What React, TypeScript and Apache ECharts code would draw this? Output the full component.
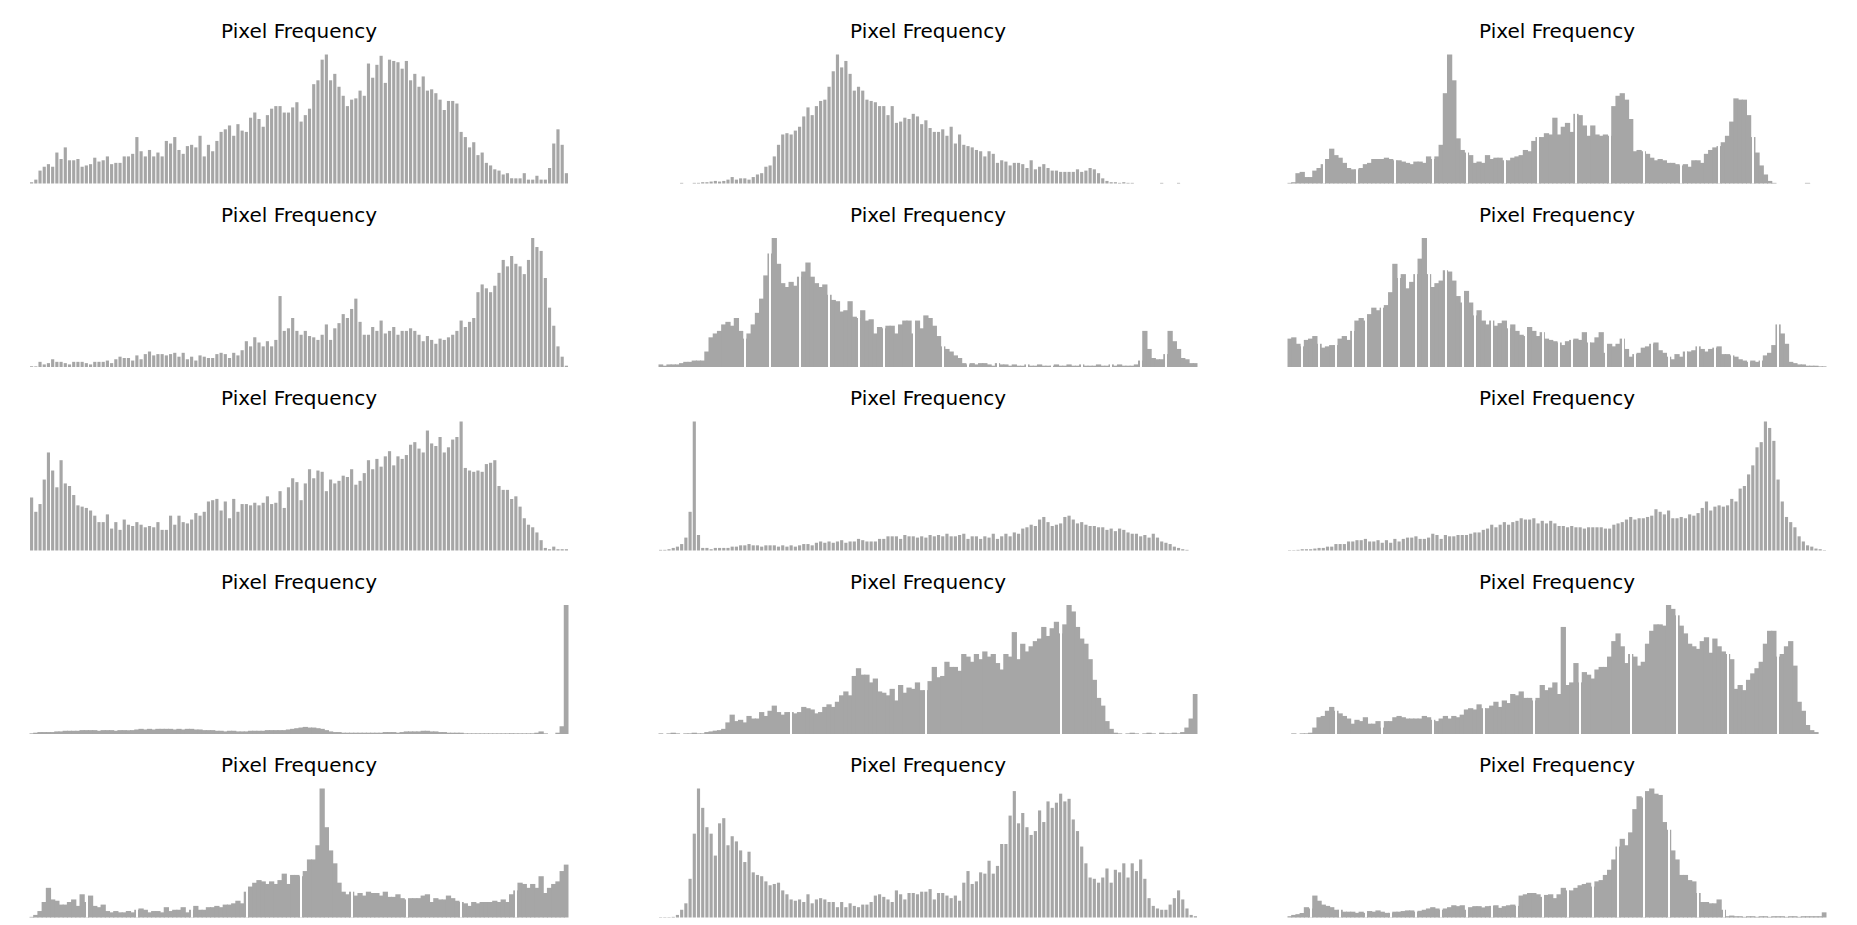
import * as echarts from "echarts";
import { useEffect, useRef } from "react";

const panelTitle = "Pixel Frequency";

// 128 bins, each covering two grey levels
const binLabels = Array.from({ length: 128 }, (_, i) => String(i * 2));

// relative bin heights, 100 = tallest bin of each panel
const hist01 = [
  1, 3, 10, 13, 15, 13, 24, 19, 28, 18, 18, 19, 13, 14, 15, 20,
  17, 18, 21, 15, 16, 16, 21, 21, 23, 36, 25, 21, 26, 21, 24, 21,
  33, 31, 36, 26, 23, 29, 30, 28, 37, 21, 30, 25, 33, 40, 42, 45,
  37, 46, 41, 40, 51, 55, 50, 44, 53, 58, 60, 60, 55, 55, 59, 63,
  48, 53, 58, 77, 80, 96, 100, 80, 85, 75, 68, 60, 65, 66, 72, 68,
  93, 82, 92, 99, 78, 96, 95, 94, 89, 95, 80, 85, 75, 83, 72, 73,
  70, 65, 57, 64, 64, 62, 40, 36, 28, 32, 22, 24, 16, 14, 11, 10,
  7, 8, 4, 4, 4, 8, 3, 3, 6, 3, 3, 12, 31, 42, 30, 8,
];
const hist02 = [
  0, 0, 0, 0, 0, 0.5, 0, 0, 0.5, 0.5, 1, 1, 1.5, 2, 1.5, 2,
  3, 5, 3, 4, 4, 3, 5, 7, 8, 13, 14, 21, 30, 38, 39, 38,
  41, 44, 52, 59, 53, 60, 64, 65, 75, 87, 100, 90, 95, 85, 72, 75,
  72, 65, 64, 63, 60, 60, 53, 60, 47, 48, 51, 50, 54, 52, 46, 49,
  43, 40, 40, 42, 37, 44, 31, 38, 30, 29, 28, 26, 25, 21, 25, 23,
  16, 18, 17, 14, 16, 16, 15, 12, 18, 11, 13, 15, 12, 10, 10, 9,
  9, 9, 9, 11, 9, 10, 12, 11, 8, 4, 2, 1, 1, 0.5, 1, 0.5,
  0.5, 0, 0, 0, 0, 0, 0, 0.5, 0, 0, 0, 0.5, 0, 0, 0, 0,
];
const hist03 = [
  0.5, 1, 8, 9, 5, 5, 10, 12, 15, 19, 27, 22, 20, 16, 12, 11,
  11, 12, 15, 16, 19, 19, 19, 20, 19, 18, 18, 17, 16, 15, 17, 17,
  16, 21, 19, 21, 30, 70, 100, 80, 35, 26, 24, 22, 16, 17, 16, 22,
  19, 20, 20, 18, 18, 20, 21, 22, 26, 25, 33, 36, 36, 39, 38, 51,
  38, 44, 47, 40, 54, 53, 45, 37, 45, 38, 37, 38, 37, 60, 68, 70,
  65, 50, 25, 26, 25, 23, 20, 18, 19, 18, 16, 16, 15, 14, 15, 13,
  18, 18, 16, 23, 26, 28, 29, 32, 37, 48, 66, 65, 65, 53, 36, 24,
  14, 7, 2, 0.5, 0, 0, 0, 0, 0, 0, 0, 0.5, 0, 0, 0, 0,
];
const hist04 = [
  0.5, 0.5, 4, 2, 3, 6, 4, 4, 3, 2, 4, 4, 4, 3, 2, 4,
  4, 4, 5, 3, 6, 8, 7, 7, 5, 9, 6, 10, 12, 9, 10, 10,
  9, 10, 11, 8, 11, 6, 8, 5, 9, 8, 7, 7, 10, 11, 10, 7,
  11, 9, 13, 20, 16, 23, 19, 16, 20, 16, 21, 55, 28, 30, 38, 28,
  25, 28, 24, 23, 21, 25, 33, 21, 30, 34, 41, 38, 45, 53, 35, 25,
  25, 31, 28, 36, 26, 28, 31, 25, 28, 28, 30, 28, 25, 20, 24, 21,
  18, 22, 21, 23, 25, 28, 36, 31, 35, 38, 58, 64, 61, 58, 63, 73,
  83, 78, 86, 80, 78, 72, 83, 100, 93, 90, 69, 46, 32, 16, 8, 1,
];
const hist05 = [
  2, 1, 2, 2, 2, 3, 4, 4, 5, 5, 5, 12, 23, 26, 28, 33,
  35, 32, 38, 28, 22, 26, 33, 42, 53, 71, 88, 100, 80, 65, 62, 66,
  63, 70, 74, 81, 70, 65, 62, 64, 56, 52, 51, 43, 44, 51, 39, 38,
  44, 36, 37, 26, 31, 30, 32, 32, 26, 33, 36, 36, 26, 36, 30, 40,
  38, 32, 24, 16, 14, 12, 9, 7, 3, 2, 3, 2, 3, 3, 2, 1,
  3, 2, 2, 1, 2, 1, 1, 2, 1, 1, 2, 1, 1, 1, 2, 1,
  1, 2, 1, 1, 2, 1, 1, 1, 2, 1, 1, 2, 1, 2, 1, 1,
  1, 2, 5, 28, 14, 7, 6, 6, 10, 28, 20, 14, 7, 6, 3, 3,
];
const hist06 = [
  22, 23, 18, 16, 21, 22, 24, 18, 15, 16, 17, 17, 22, 24, 21, 28,
  36, 38, 36, 41, 46, 44, 46, 48, 58, 80, 69, 72, 61, 66, 72, 84,
  100, 72, 62, 65, 67, 75, 74, 67, 55, 50, 59, 50, 40, 44, 36, 33,
  36, 32, 34, 36, 30, 33, 28, 25, 24, 31, 28, 24, 27, 22, 21, 20,
  19, 17, 20, 21, 22, 21, 27, 19, 19, 23, 27, 11, 18, 16, 18, 22,
  14, 8, 10, 11, 15, 16, 18, 19, 13, 11, 8, 6, 10, 8, 12, 12,
  13, 16, 14, 12, 14, 15, 16, 10, 10, 9, 8, 6, 5, 4, 5, 4,
  5, 9, 11, 17, 33, 26, 18, 4, 3, 2, 2, 1, 1, 1, 0.5, 0.5,
];
const hist07 = [
  41, 30, 36, 55, 76, 62, 49, 70, 52, 50, 43, 35, 34, 33, 31, 27,
  22, 22, 28, 17, 22, 16, 24, 20, 19, 22, 20, 18, 19, 18, 22, 16,
  16, 27, 20, 27, 22, 21, 24, 29, 27, 30, 38, 39, 40, 31, 38, 25,
  40, 30, 36, 36, 35, 37, 35, 37, 42, 36, 37, 46, 33, 49, 56, 53,
  39, 52, 63, 56, 62, 61, 46, 55, 52, 54, 58, 57, 63, 51, 54, 60,
  70, 63, 71, 65, 73, 77, 66, 73, 71, 74, 82, 84, 79, 76, 93, 83,
  81, 88, 76, 80, 86, 88, 100, 64, 62, 61, 62, 61, 67, 68, 70, 50,
  47, 47, 40, 42, 34, 25, 20, 18, 14, 8, 2, 1, 3, 1, 1, 1,
];
const hist08 = [
  0.5, 0.5, 1, 2, 3, 5, 10, 30, 100, 12, 2, 2, 1, 2, 2, 2,
  2, 3, 3, 4, 4, 5, 4, 4, 3, 4, 4, 4, 3, 4, 3, 4,
  3, 4, 5, 5, 4, 6, 7, 6, 7, 6, 7, 8, 6, 7, 7, 9,
  8, 7, 7, 7, 9, 9, 11, 11, 11, 9, 12, 11, 11, 10, 11, 10,
  12, 11, 12, 11, 13, 11, 11, 12, 13, 9, 11, 11, 9, 11, 10, 13,
  9, 11, 13, 11, 14, 13, 17, 18, 20, 19, 24, 26, 22, 19, 20, 21,
  26, 27, 24, 21, 22, 20, 19, 19, 18, 18, 16, 17, 15, 17, 16, 14,
  13, 13, 11, 12, 10, 13, 10, 7, 6, 5, 3, 2, 1, 0.5, 0, 0,
];
const hist09 = [
  0.3, 0.3, 0.5, 1, 1, 1, 1.5, 2, 2, 3, 3, 5, 5, 5, 7, 7,
  8, 8, 9, 7, 7, 8, 6, 8, 6, 9, 7, 9, 10, 10, 11, 9,
  9, 10, 13, 12, 9, 12, 11, 11, 12, 12, 12, 13, 14, 14, 16, 17,
  20, 18, 20, 22, 20, 22, 23, 25, 24, 24, 25, 21, 23, 21, 23, 21,
  19, 19, 18, 19, 18, 18, 17, 18, 18, 18, 18, 17, 17, 20, 21, 22,
  24, 26, 24, 25, 25, 26, 27, 32, 30, 28, 31, 25, 25, 26, 25, 28,
  27, 29, 33, 38, 31, 34, 35, 34, 35, 40, 38, 48, 50, 59, 66, 80,
  84, 100, 95, 85, 55, 38, 26, 22, 18, 11, 7, 4, 3, 1.5, 1, 0.3,
];
const hist10 = [
  0.5, 1, 1.5, 1.5, 1.5, 1.5, 2, 2, 2.5, 2.5, 2.5, 2.5, 3, 3, 3, 3,
  2.5, 3, 3, 3, 2.5, 3, 3, 3, 3, 3.5, 4, 3.5, 4, 3.5, 4, 4,
  4, 4, 3.5, 4, 3.5, 4, 4, 3.5, 3.5, 3, 3, 3, 2.5, 2.5, 2, 2.5,
  2.5, 2, 2, 2, 2.5, 2.5, 2.5, 2.5, 3, 3, 3, 3, 3, 3.5, 4, 4.5,
  5, 5.5, 5, 5, 4.5, 4, 3, 2, 1.5, 1.5, 1, 1, 1, 1, 1, 1,
  1, 1, 1, 1, 1.5, 1.5, 1.5, 1, 1.5, 2, 2, 2, 2, 2.5, 2.5, 2,
  2, 1.5, 1.5, 1, 1, 1, 1, 0.5, 0.5, 0.5, 0.5, 0.5, 0.5, 0.5, 0.5, 0.5,
  0.5, 0.5, 0.5, 0.5, 0.5, 0.5, 0.5, 0.5, 1, 2, 0.5, 0, 0, 1, 6, 100,
];
const hist11 = [
  0.5, 0, 0.5, 1, 0.5, 0, 0.5, 0.5, 1, 0.5, 0.5, 1.5, 2, 2.6, 3, 4,
  9, 15, 10, 11, 9, 14, 12, 12, 17, 14, 18, 22, 17, 15, 17, 17,
  16, 17, 21, 20, 19, 16, 17, 21, 23, 21, 25, 30, 33, 30, 45, 51,
  46, 46, 40, 43, 33, 32, 30, 35, 26, 38, 32, 36, 35, 40, 34, 34,
  41, 52, 44, 45, 56, 52, 52, 49, 62, 60, 56, 62, 58, 64, 60, 62,
  55, 50, 62, 60, 79, 58, 70, 64, 68, 72, 74, 83, 76, 82, 87, 78,
  85, 100, 95, 83, 74, 70, 58, 42, 28, 22, 10, 4, 1, 0.5, 0, 0.5,
  1, 0.5, 0, 0.5, 1, 0.5, 0, 1, 0.5, 0.5, 1, 0.5, 1.5, 5, 12, 31,
];
const hist12 = [
  0, 0.5, 0, 0.5, 0.5, 1, 5, 13, 14, 18, 21, 18, 16, 14, 12, 8,
  11, 10, 13, 8, 8, 10, 5, 10, 10, 13, 14, 13, 12, 12, 12, 12,
  14, 13, 11, 10, 12, 14, 12, 14, 13, 15, 19, 20, 19, 23, 20, 20,
  22, 25, 21, 26, 24, 31, 30, 33, 28, 28, 26, 28, 38, 34, 36, 40,
  31, 83, 38, 40, 55, 40, 48, 46, 43, 50, 52, 52, 60, 72, 78, 68,
  55, 62, 60, 53, 56, 70, 80, 85, 85, 84, 100, 97, 92, 84, 78, 70,
  68, 66, 72, 75, 63, 74, 68, 64, 62, 58, 35, 38, 34, 42, 47, 51,
  56, 70, 80, 80, 60, 62, 68, 72, 53, 25, 18, 7, 3, 1.5, 0, 0,
];
const hist13 = [
  0.5, 2, 5, 12, 23, 14, 13, 10, 10, 12, 14, 9, 18, 12, 17, 9,
  8, 10, 5, 4, 5, 4, 4, 5, 4, 6, 7, 6, 4, 5, 5, 4,
  8, 5, 6, 6, 8, 4, 6, 9, 6, 6, 8, 8, 9, 8, 10, 10,
  11, 13, 11, 20, 24, 27, 29, 28, 26, 28, 26, 29, 34, 26, 33, 33,
  32, 36, 45, 45, 56, 100, 70, 52, 42, 27, 20, 18, 20, 17, 19, 17,
  20, 19, 19, 17, 20, 16, 16, 18, 15, 14, 15, 15, 15, 17, 18, 12,
  15, 14, 14, 17, 15, 13, 12, 11, 9, 12, 11, 12, 12, 12, 13, 12,
  14, 12, 18, 21, 27, 26, 23, 26, 23, 32, 19, 23, 26, 28, 36, 41,
];
const hist14 = [
  0.3, 0.3, 0.3, 0.5, 2, 6, 11, 30, 65, 100, 85, 70, 65, 48, 73, 77,
  56, 63, 59, 52, 43, 51, 35, 33, 32, 28, 25, 26, 27, 21, 18, 14,
  13, 14, 12, 18, 11, 14, 15, 14, 12, 12, 8, 12, 8, 11, 9, 8,
  10, 10, 12, 17, 18, 16, 14, 12, 21, 18, 14, 19, 19, 18, 20, 20,
  22, 14, 19, 19, 17, 15, 17, 13, 27, 36, 26, 28, 35, 34, 44, 34,
  40, 57, 57, 79, 98, 73, 81, 70, 64, 67, 83, 74, 90, 85, 89, 96,
  90, 92, 76, 67, 55, 42, 31, 30, 27, 31, 38, 27, 37, 35, 42, 31,
  42, 36, 45, 30, 15, 9, 7, 6, 6, 10, 15, 21, 14, 7, 2, 1,
];
const hist15 = [
  1, 2, 2.6, 3.5, 8, 7, 17, 13, 10, 9, 8, 6, 6, 4.5, 4.5, 4.5,
  3.6, 4.5, 3.6, 5, 4.5, 5.5, 4.5, 3.6, 3.6, 4.5, 4.5, 5, 5.5, 5.5, 4.5, 5.2,
  6, 7, 8, 7, 6, 7, 8, 9.5, 8.8, 9.5, 6, 8, 8.8, 8.8, 7.8, 8.8,
  9, 9.5, 7.5, 8.8, 9.5, 10, 9, 17, 18, 19, 19, 18, 16, 17.5, 18, 15,
  18, 23, 21, 21, 23, 25, 26, 27, 24, 28, 29, 33, 37, 45, 55, 61,
  56, 66, 84, 94, 93, 98, 100, 96, 95, 74, 68, 52, 45, 33, 33, 29,
  28, 19, 12, 12, 11, 11, 14, 6, 1, 1.5, 1, 1, 0.5, 1, 1, 0.5,
  1, 1, 0.5, 1, 1, 1, 0.5, 1, 1, 0.5, 1, 1, 1, 1, 1, 4,
];

// bins that are empty in the original 256-bin histograms
const gaps03 = [8, 16, 25, 34, 42, 51, 59, 68, 76, 84, 93, 102, 110];
const gaps05 = [20, 26, 33, 40, 47, 53, 60, 67, 73, 80, 87, 93, 100, 107, 114, 120];
const gaps06 = [
  3, 7, 11, 15, 18, 22, 26, 30, 33, 37, 41, 44, 48, 52, 56, 60, 64, 67, 71,
  75, 79, 82, 86, 90, 94, 97, 101, 105, 109, 112, 116,
];
const gaps11 = [31, 63, 95];
const gaps12 = [11, 22, 34, 46, 58, 69, 81, 92, 104, 116];
const gaps13 = [13, 25, 38, 51, 64, 76, 89, 102, 115];
const gaps15 = [5, 12, 18, 24, 30, 36, 42, 48, 54, 60, 66, 72, 78, 84, 90, 97, 103];

const panelValues = [
  hist01, hist02, hist03,
  hist04, hist05, hist06,
  hist07, hist08, hist09,
  hist10, hist11, hist12,
  hist13, hist14, hist15,
];
const panelGaps: number[][] = [
  [], [], gaps03,
  [], gaps05, gaps06,
  [], [], [],
  [], gaps11, gaps12,
  gaps13, [], gaps15,
];

// layout (px)
const COL_LEFT = [29.5, 658.5, 1287.5];
const PANEL_W = 539;
const PANEL_H = 129;
const FIRST_TOP = 54.5;
const ROW_STEP = 183.5;
const TITLE_TOP = 21;
const COMB = [0, 1, 3, 6, 7, 8, 13];
const BAR_COLOR = "#a6a6a6";

export default function App() {
  const chartRef = useRef<HTMLDivElement | null>(null);

  useEffect(() => {
    if (!chartRef.current) return;
    const chart = echarts.init(chartRef.current, undefined, { renderer: "svg" });

    const option: echarts.EChartsOption = {
      animation: false,
      backgroundColor: "#fff",
      title: panelValues.map((_, i) => ({
        text: panelTitle,
        left: COL_LEFT[i % 3] + PANEL_W / 2,
        top: TITLE_TOP + Math.floor(i / 3) * ROW_STEP,
        textAlign: "center",
        padding: 0,
        textStyle: {
          fontFamily: "DejaVu Sans",
          fontSize: 20,
          fontWeight: "normal",
          color: "#000",
        },
      })),
      grid: panelValues.map((_, i) => ({
        left: COL_LEFT[i % 3],
        top: FIRST_TOP + Math.floor(i / 3) * ROW_STEP,
        width: PANEL_W,
        height: PANEL_H,
      })),
      xAxis: panelValues.map((_, i) => ({
        type: "category",
        gridIndex: i,
        data: binLabels,
        show: false,
      })),
      yAxis: panelValues.map((_, i) => ({
        type: "value",
        gridIndex: i,
        min: 0,
        max: 100,
        show: false,
      })),
      series: panelValues.map((values, i) => {
        const comb = COMB.includes(i);
        const gaps = panelGaps[i];
        return {
          type: "bar",
          xAxisIndex: i,
          yAxisIndex: i,
          // empty bins draw nothing
          data: values.map((v) => (v === 0 ? null : v)),
          silent: true,
          // solid panels: let neighbouring bars overlap a little so no seams show
          barCategoryGap: comb ? "25%" : "-25%",
          itemStyle: { color: BAR_COLOR },
          markLine: gaps.length
            ? {
                silent: true,
                symbol: ["none", "none"],
                label: { show: false },
                lineStyle: { color: "#fff", width: 2, type: "solid", opacity: 1 },
                emphasis: { disabled: true },
                data: gaps.map((g) => ({ xAxis: g })),
              }
            : undefined,
        };
      }),
    };

    chart.setOption(option);
    return () => {
      chart.dispose();
    };
  }, []);

  return (
    <div
      ref={chartRef}
      style={{ position: "absolute", left: 0, top: 0, width: 1857, height: 925 }}
    />
  );
}
